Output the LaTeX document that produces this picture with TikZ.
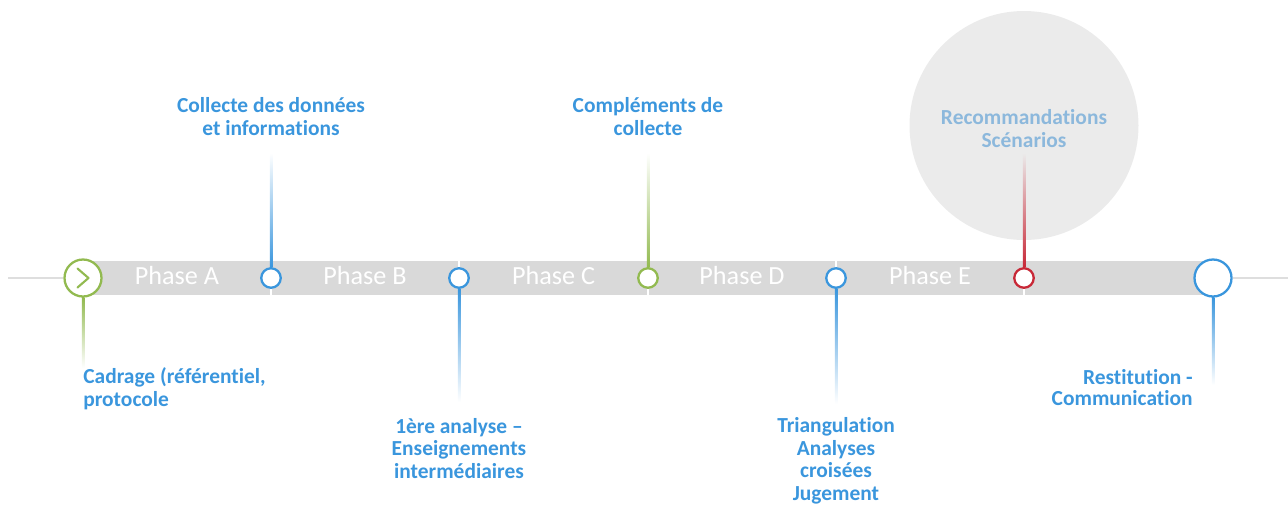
\documentclass[tikz,border=0pt]{standalone}
\usepackage{fontspec}
\setmainfont{Carlito}[Ligatures=NoCommon]
\usetikzlibrary{calc}

\definecolor{tlblue}{RGB}{58,150,221}
\definecolor{tlgreen}{RGB}{146,186,80}
\definecolor{tlred}{RGB}{200,40,55}
\definecolor{tlbar}{RGB}{217,217,217}
\definecolor{tlline}{RGB}{222,222,222}
\definecolor{tlcircle}{RGB}{235,235,235}
\definecolor{tlpale}{RGB}{140,184,220}

\tikzset{
    milestone/.style={circle, draw=#1, fill=white, line width=1.3pt, inner sep=0, minimum size=0.39cm},
    bigstone/.style={milestone=#1, minimum size=0.74cm},
    stemup/.style={top color=white, middle color=#1, bottom color=#1},
    stemdown/.style={top color=#1, middle color=#1, bottom color=white},
    milelabel/.style={font=\fontsize{12.2}{12.8}\selectfont\bfseries, text=tlblue, align=center, inner sep=0},
    phase/.style={font=\fontsize{14.9}{16}\selectfont, text=white, anchor=base, inner sep=0}
}

\begin{document}
\begin{tikzpicture}[x=0.02cm, y=-0.02cm]
    \useasboundingbox (0,0) rectangle (1288,505);

    % Highlight behind the last milestone
    \fill[tlcircle] (1024,125.5) circle (114.5);

    % Timeline bar
    \fill[tlbar] (83,261) rectangle (1213,295);
    \foreach \x in {271,459,648,836,1024}
        \draw[white, line width=1.1pt] (\x,261) -- (\x,295);

    % Phases
    \node[phase] (pa) at (177,284) {Phase A};
    \node[phase] (pb) at (365,284) {Phase B};
    \node[phase] (pc) at (553.5,284) {Phase C};
    \node[phase] (pd) at (742,284) {Phase D};
    \node[phase] (pe) at (930,284) {Phase E};

    % Milestones
    \node[bigstone=tlgreen] (m1) at (83,278) {};
    \node[milestone=tlblue] (m2) at (271,278) {};
    \node[milestone=tlblue] (m3) at (459,278) {};
    \node[milestone=tlgreen] (m4) at (648,278) {};
    \node[milestone=tlblue] (m5) at (836,278) {};
    \node[milestone=tlred] (m6) at (1024,278) {};
    \node[bigstone=tlblue] (m7) at (1213,278) {};

    % Start chevron
    \draw[tlgreen, line width=1.2pt, line cap=round, line join=round]
        (m1.center) ++(-5.5,-9.5) -- ++(11,9.5) -- ++(-11,9.5);

    % Outer lines
    \draw[tlline, line width=1.3pt] (8,278) -- (m1.west);
    \draw[tlline, line width=1.3pt] (m7.east) -- (1288,278);

    % Stem ends
    \coordinate (s1) at (83,368);
    \coordinate (s2) at (271,153);
    \coordinate (s3) at (459,402);
    \coordinate (s4) at (648,153);
    \coordinate (s5) at (836,404);
    \coordinate (s6) at (1024,153);
    \coordinate (s7) at (1213,385);

    % Stems
    \shade[stemdown=tlgreen] ($(m1.south)+(-1.25,0)$) rectangle ($(s1)+(1.25,0)$);
    \shade[stemup=tlblue] ($(s2)+(-1.25,0)$) rectangle ($(m2.north)+(1.25,0)$);
    \shade[stemdown=tlblue] ($(m3.south)+(-1.25,0)$) rectangle ($(s3)+(1.25,0)$);
    \shade[stemup=tlgreen] ($(s4)+(-1.25,0)$) rectangle ($(m4.north)+(1.25,0)$);
    \shade[stemdown=tlblue] ($(m5.south)+(-1.25,0)$) rectangle ($(s5)+(1.25,0)$);
    \shade[top color=tlcircle, middle color=tlred, bottom color=tlred] ($(s6)+(-1.25,0)$) rectangle ($(m6.north)+(1.25,0)$);
    \shade[stemdown=tlblue] ($(m7.south)+(-1.25,0)$) rectangle ($(s7)+(1.25,0)$);

    % Labels (anchored at the baseline of their last line)
    \node[milelabel, anchor=base west, align=left] (cadrage) at (83,406) {Cadrage (référentiel,\\protocole};
    \node[milelabel, anchor=base] (collecte) at (271,135) {Collecte des données\\et informations};
    \node[milelabel, anchor=base] (analyse) at (459,478) {1ère analyse –\\Enseignements\\intermédiaires};
    \node[milelabel, anchor=base] (complements) at (648,135) {Compléments de\\collecte};
    \node[milelabel, anchor=base] (triangulation) at (836,500) {Triangulation\\Analyses\\croisées\\Jugement};
    \node[milelabel, anchor=base, text=tlpale] (recommandations) at (1024,147) {Recommandations\\Scénarios};
    \node[milelabel, anchor=base east, align=right, font=\fontsize{12.2}{11.4}\selectfont\bfseries] (restitution) at (1193,405) {Restitution -\\Communication};

\end{tikzpicture}
\end{document}
